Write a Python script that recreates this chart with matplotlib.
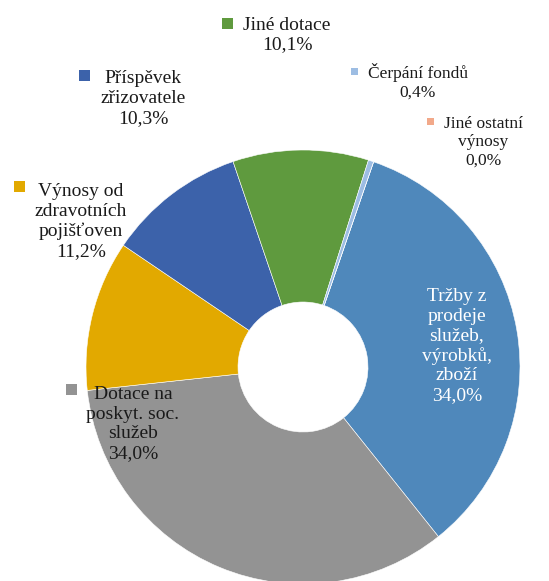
import matplotlib.pyplot as plt
from matplotlib.patches import Rectangle
from matplotlib import font_manager

# data
categories = ["Tržby z\nprodeje\nslužeb,\nvýrobků,\nzboží",
              "Dotace na\nposkyt. soc.\nslužeb",
              "Výnosy od\nzdravotních\npojišťoven",
              "Příspěvek\nzřizovatele",
              "Jiné dotace",
              "Čerpání fondů",
              "Jiné ostatní\nvýnosy"]
shares = [34.0, 34.0, 11.2, 10.3, 10.1, 0.4, 0.0]
pct_labels = ["34,0%", "34,0%", "11,2%", "10,3%", "10,1%", "0,4%", "0,0%"]
colors = ["#4F88BB", "#939393", "#E2A900", "#3C62AA", "#5F9A3E", "#9DBDE3", "#F2A98A"]

W, H = 549, 581
plt.rcParams['font.family'] = 'serif'
plt.rcParams['font.serif'] = ['Liberation Serif', 'DejaVu Serif']
print(font_manager.findfont('Liberation Serif'))

fig = plt.figure(figsize=(W/100, H/100), dpi=100)
ax = fig.add_axes([0, 0, 1, 1])

R, r_hole = 217, 65
cx, cy = 303, H - 367
ax.pie(shares, radius=R, center=(cx, cy), startangle=71, counterclock=False,
       colors=colors, frame=True,
       wedgeprops=dict(width=R - r_hole, edgecolor="white", linewidth=0.4))
ax.set_xlim(0, W)
ax.set_ylim(0, H)
ax.set_aspect('equal')
ax.axis('off')

# label placement: (x center, y center of block from top, font size, with key?)
label_pos = [(457, 346, 14, False),
             (133, 424, 14, True),
             (81, 221.5, 14, True),
             (143, 98.5, 14, True),
             (287, 35, 14, True),
             (418, 82, 12.5, True),
             (483, 142.5, 12.5, True)]

fig.canvas.draw()
renderer = fig.canvas.get_renderer()
for i, (x, y, fs, key) in enumerate(label_pos):
    txt = categories[i] + "\n" + pct_labels[i]
    col = "white" if i == 0 else "#1a1a1a"
    t = ax.text(x, H - y, txt, ha="center", va="center", fontsize=fs,
                color=col, multialignment="center", linespacing=1.2)
    if key:
        nlines = txt.count("\n") + 1
        bb = t.get_window_extent(renderer)
        line_h = fs * 1.2 * 100 / 72
        first_y = y - (nlines - 1) / 2 * line_h
        s = 11 if fs >= 14 else 7
        ax.add_patch(Rectangle((bb.x0 - 10 - s, H - first_y - s / 2), s, s,
                               facecolor=colors[i], edgecolor="none"))

fig.savefig("out.png", dpi=100)
